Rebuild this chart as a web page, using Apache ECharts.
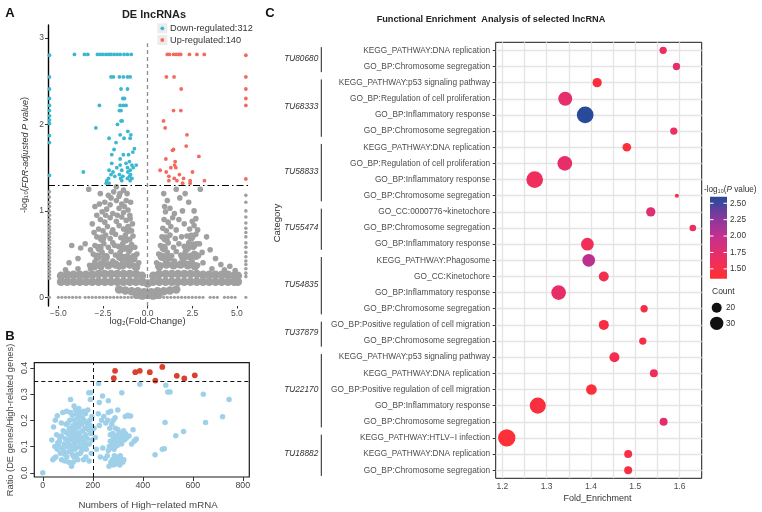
<!DOCTYPE html>
<html>
<head>
<meta charset="utf-8">
<script src="https://cdn.jsdelivr.net/npm/echarts@6.0.0/dist/echarts.min.js"></script>
<style>
  html, body { margin: 0; padding: 0; background: #fff; }
  #chart { width: 762px; height: 512px; }
</style>
</head>
<body>
<div id="chart"></div>
<script>
// ---------- Panel A: volcano plot of DE lncRNAs ----------
const volcanoXTicks = [-5, -2.5, 0, 2.5, 5]
const volcanoYTicks = [0, 1, 2, 3]
const fdrCutoff = 1.3
const downTotal = 312
const upTotal = 140

// down-regulated (cyan)
const downPoints = [
  [-5.5, 2.80], [-5.5, 2.55], [-5.5, 2.41], [-5.5, 2.30], [-5.5, 2.22], [-5.5, 2.16], [-5.5, 2.10],
  [-5.5, 2.05], [-5.5, 2.01], [-5.5, 1.87], [-5.5, 1.79], [-5.5, 1.41],
  [-4.10, 2.81], [-3.54, 2.81], [-3.35, 2.81], [-2.81, 2.81], [-2.66, 2.81], [-2.51, 2.81], [-2.34, 2.81],
  [-2.19, 2.81], [-2.05, 2.81], [-1.88, 2.81], [-1.71, 2.81], [-1.54, 2.81], [-1.32, 2.81], [-1.13, 2.81], [-0.92, 2.81],
  [-2.05, 2.55], [-1.92, 2.55], [-1.58, 2.55], [-1.36, 2.55], [-1.13, 2.55], [-0.98, 2.55],
  [-1.49, 2.41], [-1.13, 2.41], [-1.39, 2.30], [-1.30, 2.30],
  [-2.70, 2.22], [-1.54, 2.22], [-1.36, 2.22], [-1.21, 2.22], [-1.58, 2.16], [-1.49, 2.16],
  [-1.49, 2.04], [-1.43, 2.04], [-1.69, 2.00], [-2.90, 1.96], [-1.11, 1.92], [-1.54, 1.88], [-0.94, 1.88],
  [-2.16, 1.84], [-1.32, 1.84], [-0.98, 1.84], [-1.77, 1.79], [-0.74, 1.72], [-1.88, 1.71], [-0.83, 1.68],
  [-2.01, 1.65], [-1.36, 1.65], [-1.07, 1.65], [-1.54, 1.60], [-1.02, 1.57], [-2.01, 1.55], [-1.21, 1.55],
  [-1.54, 1.53], [-0.88, 1.53], [-0.64, 1.53], [-1.73, 1.50], [-1.13, 1.50], [-0.81, 1.50],
  [-2.16, 1.47], [-1.45, 1.47], [-0.98, 1.47], [-3.60, 1.45], [-1.94, 1.45], [-1.11, 1.45],
  [-2.05, 1.42], [-1.58, 1.42], [-0.96, 1.42], [-1.84, 1.40], [-1.39, 1.40], [-1.02, 1.40],
  [-2.19, 1.376], [-1.51, 1.376], [-1.13, 1.376], [-0.88, 1.376], [-2.29, 1.35], [-1.45, 1.35], [-0.98, 1.35],
  [-2.32, 1.32], [-2.16, 1.32]
]

// up-regulated (red)
const upPoints = [
  [5.5, 2.80], [5.5, 2.55], [5.5, 2.41], [5.5, 2.30], [5.5, 2.22], [5.5, 1.37],
  [1.10, 2.81], [1.22, 2.81], [1.45, 2.81], [1.60, 2.81], [1.75, 2.81], [1.85, 2.81], [2.34, 2.81], [2.76, 2.81], [3.17, 2.81],
  [1.05, 2.55], [1.48, 2.55], [1.88, 2.41], [1.45, 2.16], [1.86, 2.16], [0.89, 2.04], [0.98, 1.96],
  [2.20, 1.88], [2.16, 1.75], [1.39, 1.70], [1.45, 1.71], [2.87, 1.63], [1.02, 1.60], [1.54, 1.57],
  [1.51, 1.53], [1.30, 1.50], [1.58, 1.50], [0.70, 1.47], [1.04, 1.45], [2.51, 1.45], [1.78, 1.42],
  [1.19, 1.40], [1.49, 1.376], [2.01, 1.376], [1.19, 1.35], [1.64, 1.35], [2.38, 1.35], [3.18, 1.35],
  [1.96, 1.32], [2.38, 1.32]
]

// not significant (grey)
const greyZero = [
  [-5.5, 0], [-5.0, 0], [-4.8, 0], [-4.6, 0], [-4.4, 0], [-4.2, 0], [-4.0, 0], [-3.8, 0], [-3.5, 0], [-3.3, 0],
  [-3.1, 0], [-2.9, 0], [-2.7, 0], [-2.5, 0], [-2.3, 0], [-2.1, 0], [-1.9, 0], [-1.7, 0], [-1.5, 0], [-1.3, 0],
  [-1.1, 0], [-0.9, 0], [-0.7, 0], [-0.5, 0], [-0.3, 0], [-0.1, 0], [0.1, 0], [0.3, 0], [0.5, 0], [0.7, 0],
  [0.9, 0], [1.1, 0], [1.3, 0], [1.5, 0], [1.7, 0], [1.9, 0], [2.1, 0], [2.3, 0], [2.5, 0], [2.7, 0],
  [2.9, 0], [3.1, 0], [3.5, 0], [3.7, 0], [3.9, 0], [4.3, 0], [4.5, 0], [4.7, 0], [4.9, 0], [5.5, 0]
]
const greyBand = [
  [-4.85, 0.18], [-4.5, 0.18], [-4.15, 0.18], [-3.8, 0.18], [-3.45, 0.18], [-3.1, 0.18], [-2.75, 0.18], [-2.4, 0.18],
  [-2.05, 0.18], [-1.7, 0.18], [-1.35, 0.18], [-1.0, 0.18], [-0.65, 0.18], [-0.3, 0.18], [0, 0.16], [0.3, 0.18],
  [0.65, 0.18], [1.0, 0.18], [1.35, 0.18], [1.7, 0.18], [2.05, 0.18], [2.4, 0.18], [2.75, 0.18], [3.1, 0.18],
  [3.45, 0.18], [3.8, 0.18], [4.15, 0.18], [4.5, 0.18], [4.85, 0.18], [5.05, 0.18],
  [-4.85, 0.25], [-4.5, 0.26], [-4.15, 0.26], [-3.8, 0.26], [-3.45, 0.26], [-3.1, 0.26], [-2.75, 0.27], [-2.4, 0.27],
  [-2.05, 0.27], [-1.7, 0.27], [-1.35, 0.27], [-1.0, 0.27], [-0.65, 0.27], [-0.32, 0.25], [0.32, 0.25],
  [0.65, 0.27], [1.0, 0.27], [1.35, 0.27], [1.7, 0.27], [2.05, 0.27], [2.4, 0.27], [2.75, 0.27], [3.1, 0.26],
  [3.45, 0.26], [3.8, 0.26], [4.15, 0.26], [4.5, 0.26], [4.85, 0.25], [5.05, 0.25],
  [-1.6, 0.09], [-1.25, 0.08], [-0.9, 0.07], [-0.55, 0.07], [-0.2, 0.06], [0.2, 0.06], [0.55, 0.07],
  [0.9, 0.07], [1.25, 0.08], [1.6, 0.09], [-0.6, 0.03], [-0.3, 0.02], [0, 0.03], [0.3, 0.02], [0.6, 0.03],
  // dense lower part of the two wings
  [-3.0, 0.36], [-2.6, 0.38], [-2.2, 0.37], [-1.8, 0.38], [-1.4, 0.37], [-1.0, 0.38], [-0.65, 0.35],
  [-2.8, 0.47], [-2.35, 0.46], [-1.55, 0.47], [-1.15, 0.46], [-0.8, 0.45],
  [-2.7, 0.57], [-1.4, 0.57], [-1.05, 0.56], [-2.55, 0.68], [-1.25, 0.67], [-1.1, 0.78],
  [0.65, 0.36], [1.05, 0.38], [1.45, 0.37], [1.85, 0.38], [2.25, 0.37], [2.65, 0.36],
  [0.8, 0.47], [1.2, 0.46], [2.0, 0.46], [2.4, 0.47], [2.7, 0.48],
  [0.9, 0.57], [2.2, 0.57], [2.55, 0.6], [1.0, 0.68], [2.45, 0.7]
]
const greyColumns = [
  [-5.5, 0.22], [-5.5, 0.26], [-5.5, 0.30], [-5.5, 0.34], [-5.5, 0.38], [-5.5, 0.42], [-5.5, 0.46], [-5.5, 0.50],
  [-5.5, 0.54], [-5.5, 0.58], [-5.5, 0.62], [-5.5, 0.66], [-5.5, 0.70], [-5.5, 0.74], [-5.5, 0.78], [-5.5, 0.82],
  [-5.5, 0.86], [-5.5, 0.90], [-5.5, 0.95], [-5.5, 1.00], [-5.5, 1.05], [-5.5, 1.10], [-5.5, 1.16], [-5.5, 1.22],
  [5.5, 0.24], [5.5, 0.28], [5.5, 0.33], [5.5, 0.38], [5.5, 0.42], [5.5, 0.47], [5.5, 0.52], [5.5, 0.58],
  [5.5, 0.63], [5.5, 0.70], [5.5, 0.75], [5.5, 0.80], [5.5, 0.86], [5.5, 0.93], [5.5, 1.00], [5.5, 1.10], [5.5, 1.18]
]
const greyScatter = [
  // left wing
  [-3.25, 0.37], [-2.95, 0.41], [-2.7, 0.36], [-2.45, 0.43], [-2.2, 0.38], [-1.95, 0.42], [-1.7, 0.37], [-1.45, 0.44],
  [-1.2, 0.39], [-0.95, 0.42], [-0.7, 0.36], [-0.5, 0.4],
  [-3.05, 0.5], [-2.8, 0.47], [-2.55, 0.52], [-2.3, 0.48], [-2.05, 0.53], [-1.8, 0.49], [-1.55, 0.52], [-1.3, 0.47],
  [-1.05, 0.53], [-0.8, 0.48], [-0.6, 0.5],
  [-2.95, 0.6], [-2.7, 0.57], [-2.45, 0.62], [-2.2, 0.58], [-1.95, 0.63], [-1.65, 0.59], [-1.4, 0.62], [-1.15, 0.57],
  [-0.9, 0.61], [-0.72, 0.58],
  [-2.85, 0.7], [-2.6, 0.67], [-2.35, 0.72], [-2.1, 0.68], [-1.8, 0.73], [-1.5, 0.69], [-1.25, 0.72], [-1.0, 0.67], [-0.82, 0.71],
  [-2.75, 0.79], [-2.5, 0.77], [-2.25, 0.82], [-1.95, 0.78], [-1.6, 0.83], [-1.35, 0.79], [-1.1, 0.82], [-0.9, 0.77],
  [-2.65, 0.9], [-2.4, 0.87], [-2.1, 0.92], [-1.75, 0.88], [-1.45, 0.93], [-1.2, 0.89], [-0.98, 0.91],
  [-2.55, 0.99], [-2.3, 1.02], [-1.95, 0.97], [-1.6, 1.03], [-1.35, 0.98], [-1.1, 1.01],
  [-2.4, 1.1], [-2.1, 1.07], [-1.75, 1.12], [-1.45, 1.08], [-1.2, 1.12],
  [-2.2, 1.18], [-1.9, 1.22], [-1.6, 1.17], [-1.35, 1.24], [-1.75, 1.28], [-1.15, 1.2],
  [-3.3, 1.25], [-2.95, 1.05], [-3.1, 0.85], [-3.5, 0.62], [-3.75, 0.57], [-4.25, 0.6], [-3.9, 0.45], [-4.4, 0.4],
  [-0.95, 1.1], [-2.65, 1.2],
  [-2.85, 0.95], [-2.7, 1.08], [-2.05, 1.15], [-1.55, 1.2], [-1.3, 1.05], [-1.0, 0.95], [-0.85, 0.85],
  [-1.85, 0.6], [-2.0, 0.75], [-1.7, 0.95], [-2.35, 0.95], [-3.0, 0.75], [-3.2, 0.55],
  // right wing
  [0.5, 0.4], [0.75, 0.37], [1.0, 0.43], [1.25, 0.38], [1.5, 0.42], [1.75, 0.37], [2.0, 0.43], [2.25, 0.39],
  [2.5, 0.41], [2.8, 0.37], [3.1, 0.4],
  [0.62, 0.5], [0.85, 0.47], [1.1, 0.52], [1.35, 0.48], [1.6, 0.53], [1.85, 0.49], [2.1, 0.52], [2.35, 0.47],
  [2.6, 0.51], [2.85, 0.48],
  [0.72, 0.6], [0.92, 0.57], [1.15, 0.63], [1.45, 0.58], [1.75, 0.62], [2.05, 0.59], [2.3, 0.63], [2.55, 0.58], [2.75, 0.62],
  [0.8, 0.7], [1.0, 0.67], [1.25, 0.72], [1.55, 0.68], [2.2, 0.71], [2.45, 0.68], [2.7, 0.73],
  [0.85, 0.8], [1.05, 0.77], [1.3, 0.82], [1.6, 0.78], [2.35, 0.79], [2.6, 0.83], [2.8, 0.78],
  [0.92, 0.9], [1.15, 0.87], [1.4, 0.92], [2.5, 0.88], [2.7, 0.91],
  [1.0, 0.99], [1.25, 1.03], [1.5, 0.97], [2.6, 1.0],
  [1.8, 1.15], [2.1, 1.2], [2.3, 1.1], [1.95, 1.0], [2.95, 1.25], [3.5, 0.55], [3.3, 0.7], [4.1, 0.38],
  [4.6, 0.36], [3.8, 0.45], [1.1, 1.12], [0.9, 1.2], [1.6, 1.25],
  [1.9, 0.7], [2.05, 0.85], [1.75, 0.9], [0.95, 1.05], [2.9, 0.62], [3.05, 0.52],
  // ragged top of the band
  [-4.6, 0.32], [-3.9, 0.33], [-3.2, 0.33], [-2.6, 0.34], [-1.6, 0.35], [3.6, 0.33], [4.3, 0.32], [4.9, 0.31]
]

// ---------- Panel B: ratio vs number of high-related mRNA ----------
const ratioXTicks = [0, 200, 400, 600, 800]
const ratioYTicks = [0, 0.1, 0.2, 0.3, 0.4]
const ratioCutX = 200
const ratioCutY = 0.35
const ratioHigh = [
  [289, 0.389], [284, 0.361], [370, 0.384], [388, 0.389], [428, 0.384], [478, 0.404],
  [450, 0.352], [536, 0.370], [566, 0.360], [608, 0.372]
]
const ratioLow = [
  [0, 0.0],
  [45, 0.055], [52, 0.06], [58, 0.09], [62, 0.105], [66, 0.12], [70, 0.075], [74, 0.14], [78, 0.095], [82, 0.16],
  [85, 0.11], [88, 0.07], [90, 0.13], [93, 0.185], [95, 0.235], [98, 0.1], [100, 0.15], [102, 0.12], [104, 0.08],
  [106, 0.17], [108, 0.2], [110, 0.135], [111, 0.28], [112, 0.105], [114, 0.16], [116, 0.09], [118, 0.22],
  [120, 0.125], [121, 0.18], [123, 0.145], [124, 0.06], [126, 0.2], [127, 0.11], [129, 0.165], [130, 0.24],
  [131, 0.13], [133, 0.095], [134, 0.185], [135, 0.225], [137, 0.15], [138, 0.07], [140, 0.21], [141, 0.12],
  [143, 0.175], [144, 0.245], [145, 0.14], [147, 0.1], [148, 0.195], [150, 0.155], [151, 0.23], [153, 0.125],
  [155, 0.185], [156, 0.085], [158, 0.21], [160, 0.16], [161, 0.135], [163, 0.05], [165, 0.2], [167, 0.115],
  [168, 0.17], [170, 0.225], [172, 0.145], [174, 0.09], [176, 0.19], [178, 0.13], [180, 0.24], [182, 0.165],
  [184, 0.305], [186, 0.11], [188, 0.2], [190, 0.28], [192, 0.15], [194, 0.075], [196, 0.215], [198, 0.125],
  [75, 0.05], [68, 0.135], [60, 0.115], [55, 0.145], [48, 0.1], [50, 0.2], [43, 0.175], [36, 0.125], [40, 0.05],
  [58, 0.218], [80, 0.23], [88, 0.045], [96, 0.06], [104, 0.04], [115, 0.025], [122, 0.04], [130, 0.065],
  [140, 0.05], [150, 0.075], [160, 0.095], [172, 0.06], [185, 0.045], [100, 0.19], [110, 0.23], [125, 0.255],
  [118, 0.07], [128, 0.09], [136, 0.12], [146, 0.215], [152, 0.105], [164, 0.235], [170, 0.1], [180, 0.185],
  [190, 0.18], [197, 0.165], [83, 0.085], [92, 0.155], [108, 0.145], [74, 0.19],
  [262, 0.085], [266, 0.1], [270, 0.12], [274, 0.095], [278, 0.11], [282, 0.13], [285, 0.09], [288, 0.115],
  [291, 0.1], [294, 0.14], [296, 0.125], [299, 0.105], [302, 0.135], [304, 0.15], [306, 0.12], [309, 0.145],
  [312, 0.13], [315, 0.11], [318, 0.155], [320, 0.14], [323, 0.16], [326, 0.125], [330, 0.15], [334, 0.132],
  [300, 0.165], [280, 0.15], [270, 0.145], [290, 0.17],
  [265, 0.025], [272, 0.04], [278, 0.05], [283, 0.03], [288, 0.045], [292, 0.055], [296, 0.035], [300, 0.05],
  [304, 0.04], [308, 0.03], [312, 0.055], [316, 0.045], [320, 0.04], [324, 0.05], [296, 0.06], [286, 0.065], [310, 0.065],
  [230, 0.06], [240, 0.095], [250, 0.055], [258, 0.065], [226, 0.18], [235, 0.2], [244, 0.215], [252, 0.19],
  [260, 0.2], [268, 0.17], [276, 0.185], [282, 0.2], [262, 0.23], [272, 0.235], [289, 0.21], [300, 0.24],
  [222, 0.225], [210, 0.135], [215, 0.09], [205, 0.17], [330, 0.215], [340, 0.22], [345, 0.217], [351, 0.217],
  [223, 0.341], [192, 0.305], [226, 0.268], [239, 0.293], [262, 0.275], [316, 0.305], [388, 0.338], [492, 0.334],
  [500, 0.308], [509, 0.308], [489, 0.192], [449, 0.069], [478, 0.09], [486, 0.092], [532, 0.141], [563, 0.158],
  [642, 0.300], [651, 0.192], [719, 0.214], [745, 0.28], [361, 0.164], [374, 0.129], [345, 0.14], [355, 0.11],
  [365, 0.12], [370, 0.125]
]

// ---------- Panel C: functional enrichment ----------
const terms = [
  'KEGG_PATHWAY:DNA replication', 'GO_BP:Chromosome segregation',
  'KEGG_PATHWAY:p53 signaling pathway', 'GO_BP:Regulation of cell proliferation', 'GO_BP:Inflammatory response', 'GO_BP:Chromosome segregation',
  'KEGG_PATHWAY:DNA replication', 'GO_BP:Regulation of cell proliferation', 'GO_BP:Inflammatory response', 'GO_BP:Chromosome segregation',
  'GO_CC:0000776~kinetochore', 'GO_BP:Chromosome segregation', 'GO_BP:Inflammatory response',
  'KEGG_PATHWAY:Phagosome', 'GO_CC:Kinetochore', 'GO_BP:Inflammatory response', 'GO_BP:Chromosome segregation',
  'GO_BP:Positive regulation of cell migration', 'GO_BP:Chromosome segregation',
  'KEGG_PATHWAY:p53 signaling pathway', 'KEGG_PATHWAY:DNA replication', 'GO_BP:Positive regulation of cell migration', 'GO_BP:Inflammatory response', 'GO_BP:Chromosome segregation',
  'KEGG_PATHWAY:HTLV\u2212I infection', 'KEGG_PATHWAY:DNA replication', 'GO_BP:Chromosome segregation'
]
const foldEnrichment = [1.563, 1.593, 1.414, 1.342, 1.387, 1.587, 1.481, 1.341, 1.273, 1.594, 1.535, 1.630, 1.392,
  1.395, 1.429, 1.327, 1.520, 1.429, 1.517, 1.453, 1.542, 1.401, 1.280, 1.564, 1.210, 1.484, 1.484]
const geneCount = [12, 12, 18, 32, 40, 12, 16, 34, 40, 2, 18, 10, 28, 28, 20, 34, 12, 20, 12, 20, 14, 22, 38, 14, 42, 14, 14]
const logP = [1.65, 1.70, 1.45, 1.72, 2.58, 1.65, 1.42, 1.70, 1.62, 1.45, 1.78, 1.65, 1.60, 2.02, 1.55, 1.70, 1.50,
  1.48, 1.50, 1.55, 1.62, 1.42, 1.45, 1.75, 1.40, 1.47, 1.47]
const groupNames = ['TU80680', 'TU68333', 'TU58833', 'TU55474', 'TU54835', 'TU37879', 'TU22170', 'TU18882']
const groupFirst = [0, 2, 6, 10, 13, 17, 19, 24]
const groupLast = [1, 5, 9, 12, 16, 18, 23, 26]
const foldTicks = [1.2, 1.3, 1.4, 1.5, 1.6]
const foldGrid = [1.2, 1.25, 1.3, 1.35, 1.4, 1.45, 1.5, 1.55, 1.6]
const pTicks = [1.5, 1.75, 2, 2.25, 2.5]
const countBreaks = [20, 30]
const pColors = ['#FF3030', '#EC2E63', '#C6308C', '#84399C', '#234A9A']

const FONT = "'Liberation Sans', Arial, 'DejaVu Sans', sans-serif"
const GREY = '#a0a0a0'
const foldMin = 1.185
const foldMax = 1.65
const pMin = 1.35
const pMax = 2.6
const bubbleSize = c => 3.3 + 0.335 * c
const minus = s => s.replace('-', '\u2212')

const chart = echarts.init(document.getElementById('chart'))

const txt = (x, y, text, o) => ({
  type: 'text', x, y, rotation: (o && o.rot) || 0, silent: true,
  style: Object.assign({ text, fontFamily: FONT, fontSize: 9, fill: '#333', align: 'center', verticalAlign: 'middle' }, o && o.style)
})

// flat filled dots, no border and no shadow
const flat = color => ({ color, opacity: 1, borderWidth: 0, shadowBlur: 0, shadowColor: 'rgba(0,0,0,0)' })

const dots = (data, size, color, extra) => Object.assign({
  type: 'scatter', xAxisIndex: 0, yAxisIndex: 0, data, symbol: 'circle', symbolSize: size, silent: true,
  itemStyle: flat(color)
}, extra)

const option = {
  animation: false,
  grid: [
    { left: 48, top: 25, width: 200, height: 281 },
    { left: 34.3, top: 362.7, width: 215, height: 114.3, show: true, borderColor: '#1a1a1a', borderWidth: 1.2 },
    { left: 495.7, top: 42.3, width: 206, height: 436, show: true, borderColor: '#1a1a1a', borderWidth: 1 },
    { left: 710, top: 196.7, width: 17, height: 82 }
  ],
  xAxis: [
    {
      gridIndex: 0, type: 'value', min: -5.58, max: 5.62,
      axisLine: { show: false, onZero: false },
      axisTick: { length: 2.5, customValues: volcanoXTicks, lineStyle: { color: '#333' } },
      axisLabel: { customValues: volcanoXTicks, formatter: v => minus(v.toFixed(1)), fontSize: 8.5, color: '#4d4d4d', margin: 3, fontFamily: FONT },
      splitLine: { show: false }
    },
    {
      gridIndex: 1, type: 'value', min: -34, max: 826,
      axisLine: { show: false, onZero: false },
      axisTick: { length: 4, customValues: ratioXTicks, lineStyle: { color: '#333' } },
      axisLabel: { customValues: ratioXTicks, fontSize: 8.8, color: '#444', margin: 4, fontFamily: FONT },
      splitLine: { show: false }
    },
    {
      gridIndex: 2, type: 'value', min: foldMin, max: foldMax,
      axisLine: { show: false, onZero: false },
      axisTick: { length: 3, customValues: foldTicks, lineStyle: { color: '#333' } },
      axisLabel: { customValues: foldTicks, formatter: v => v.toFixed(1), fontSize: 8.5, color: '#4d4d4d', margin: 4, fontFamily: FONT },
      splitLine: { show: false }
    },
    {
      gridIndex: 2, type: 'value', min: foldMin, max: foldMax,
      axisLine: { show: false, onZero: false },
      axisTick: { show: false, customValues: foldGrid },
      axisLabel: { show: false },
      splitLine: { show: true, lineStyle: { color: '#e4e4e4', width: 1.3 } }
    },
    { gridIndex: 3, type: 'value', min: 0, max: 1, show: false }
  ],
  yAxis: [
    {
      gridIndex: 0, type: 'value', min: -0.1, max: 3.15,
      axisLine: { show: true, onZero: false, lineStyle: { color: '#000', width: 1.4 } },
      axisTick: { show: true, length: 3, customValues: volcanoYTicks, lineStyle: { color: '#333' } },
      axisLabel: { customValues: volcanoYTicks, fontSize: 8.5, color: '#4d4d4d', margin: 4, fontFamily: FONT },
      splitLine: { show: false }
    },
    {
      gridIndex: 1, type: 'value', min: -0.016, max: 0.42,
      axisLine: { show: false, onZero: false },
      axisTick: { show: true, length: 4, customValues: ratioYTicks, lineStyle: { color: '#333' } },
      axisLabel: { customValues: ratioYTicks, formatter: v => v.toFixed(1), rotate: 90, fontSize: 8.8, color: '#444', margin: 5, fontFamily: FONT },
      splitLine: { show: false }
    },
    {
      gridIndex: 2, type: 'category', data: terms, inverse: true, boundaryGap: true,
      axisLine: { show: false, onZero: false },
      axisTick: { show: true, alignWithLabel: true, interval: 0, length: 3, lineStyle: { color: '#333' } },
      axisLabel: { interval: 0, fontSize: 8.3, color: '#4d4d4d', margin: 5.5, fontFamily: FONT },
      splitLine: { show: true, alignWithLabel: true, interval: 0, lineStyle: { color: '#e4e4e4', width: 1.3 } }
    },
    {
      gridIndex: 3, type: 'value', min: pMin, max: pMax, position: 'right',
      axisLine: { show: false, onZero: false },
      axisTick: { show: false },
      axisLabel: { customValues: pTicks, formatter: v => v.toFixed(2), fontSize: 8.2, color: '#333', margin: 3, fontFamily: FONT },
      splitLine: { show: false }
    }
  ],
  visualMap: [{
    type: 'continuous', show: false, min: pMin, max: pMax, dimension: 3, seriesIndex: 9,
    inRange: { color: pColors }
  }],
  series: [
    dots(greyZero, 3.2, GREY),
    dots(greyBand, 8.5, GREY),
    dots(greyColumns, 3.6, GREY),
    dots(greyScatter, 5.6, GREY),
    dots(downPoints, 3.8, '#3BB8D0', {
      markLine: {
        silent: true, symbol: 'none', label: { show: false },
        data: [
          [{ coord: [0, -0.1], lineStyle: { color: '#8c8c8c', type: [4, 3], width: 1.3 } }, { coord: [0, 2.94] }],
          { yAxis: fdrCutoff, lineStyle: { color: '#000', type: [7, 3, 1.5, 3], width: 1.2 } }
        ]
      }
    }),
    dots(upPoints, 3.8, '#F26B5E'),
    {
      type: 'scatter', xAxisIndex: 1, yAxisIndex: 1, data: ratioLow, symbol: 'circle', symbolSize: 5.5,
      itemStyle: flat('#9FD0EA'), silent: true,
      markLine: {
        silent: true, symbol: 'none', label: { show: false },
        lineStyle: { color: '#111', type: [4, 3], width: 1 },
        data: [{ xAxis: ratioCutX }, { yAxis: ratioCutY }]
      }
    },
    {
      type: 'scatter', xAxisIndex: 1, yAxisIndex: 1, data: ratioHigh, symbol: 'circle', symbolSize: 5.8,
      itemStyle: flat('#D9412D'), silent: true
    },
    {
      type: 'custom', xAxisIndex: 2, yAxisIndex: 2, clip: false, silent: true,
      data: groupNames.map((n, i) => [foldMin, groupFirst[i], groupLast[i], i]),
      encode: { x: 0, y: 1 },
      renderItem: (params, api) => {
        const first = api.coord([foldMin, api.value(1)])
        const last = api.coord([foldMin, api.value(2)])
        const band = api.size([0, 1])[1]
        const bx = first[0] - 174.4
        const name = groupNames[api.value(3)]
        return {
          type: 'group',
          children: [
            { type: 'line', shape: { x1: bx, y1: first[1] - 0.2 * band, x2: bx, y2: last[1] + 0.35 * band }, style: { stroke: '#222', lineWidth: 1 } },
            {
              type: 'text', x: bx - 3, y: (first[1] + last[1]) / 2,
              style: { text: name, align: 'right', verticalAlign: 'middle', fontStyle: 'italic', fontSize: 8.3, fontFamily: FONT, fill: '#333' }
            }
          ]
        }
      }
    },
    {
      type: 'scatter', xAxisIndex: 2, yAxisIndex: 2, silent: true, z: 5, symbol: 'circle',
      itemStyle: { opacity: 1, borderWidth: 0, shadowBlur: 0, shadowColor: 'rgba(0,0,0,0)' },
      data: terms.map((t, i) => [foldEnrichment[i], i, geneCount[i], logP[i]]),
      symbolSize: v => bubbleSize(v[2])
    },
    {
      type: 'custom', xAxisIndex: 4, yAxisIndex: 3, silent: true, clip: false,
      data: [[0.5, pMin]],
      renderItem: (params, api) => {
        const tl = api.coord([0, pMax])
        const br = api.coord([1, pMin])
        const children = [{
          type: 'rect', shape: { x: tl[0], y: tl[1], width: br[0] - tl[0], height: br[1] - tl[1] },
          style: {
            fill: new echarts.graphic.LinearGradient(0, 1, 0, 0,
              pColors.map((c, i) => ({ offset: i / (pColors.length - 1), color: c })))
          }
        }]
        pTicks.forEach(v => {
          const y = api.coord([0, v])[1]
          children.push({ type: 'line', shape: { x1: tl[0], y1: y, x2: tl[0] + 3.5, y2: y }, style: { stroke: '#fff', lineWidth: 1 } })
          children.push({ type: 'line', shape: { x1: br[0] - 3.5, y1: y, x2: br[0], y2: y }, style: { stroke: '#fff', lineWidth: 1 } })
        })
        return { type: 'group', children }
      }
    }
  ],
  graphic: [
    txt(10, 13, 'A', { style: { fontSize: 13, fontWeight: 'bold', fill: '#111' } }),
    txt(10, 336, 'B', { style: { fontSize: 13, fontWeight: 'bold', fill: '#111' } }),
    txt(270, 13, 'C', { style: { fontSize: 13, fontWeight: 'bold', fill: '#111' } }),
    txt(154, 15, 'DE lncRNAs', { style: { fontSize: 11, fontWeight: 'bold', fill: '#222' } }),
    txt(491, 19, 'Functional Enrichment  Analysis of selected lncRNA', { style: { fontSize: 9.2, fontWeight: 'bold', fill: '#222' } }),
    txt(25, 155, '{n|-log\u2081\u2080(}{i|FDR-adjusted P value}{n|)}', {
      rot: Math.PI / 2,
      style: { rich: { n: { fontSize: 9, fontFamily: FONT, fill: '#333' }, i: { fontSize: 9, fontStyle: 'italic', fontFamily: FONT, fill: '#333' } } }
    }),
    txt(147.5, 321, 'log\u2082(Fold-Change)', { style: { fontSize: 9.3 } }),
    txt(10, 420, 'Ratio (DE genes/High-related genes)', { rot: Math.PI / 2, style: { fontSize: 9.3, fill: '#444' } }),
    txt(148, 505.5, 'Numbers of High\u2212related mRNA', { style: { fontSize: 9.7, fill: '#444' } }),
    txt(277, 223, 'Category', { rot: Math.PI / 2, style: { fontSize: 9.5 } }),
    txt(597.5, 499, 'Fold_Enrichment', { style: { fontSize: 9 } }),
    txt(704, 190, '{n|-log\u2081\u2080(}{i|P}{n| value)}', {
      style: { align: 'left', rich: { n: { fontSize: 8.2, fontFamily: FONT, fill: '#333' }, i: { fontSize: 8.2, fontStyle: 'italic', fontFamily: FONT, fill: '#333' } } }
    }),
    txt(712, 292, 'Count', { style: { align: 'left', fontSize: 8.5 } }),
    { type: 'circle', silent: true, shape: { cx: 716.7, cy: 307.7, r: bubbleSize(countBreaks[0]) / 2 }, style: { fill: '#111' } },
    { type: 'circle', silent: true, shape: { cx: 716.7, cy: 323.3, r: bubbleSize(countBreaks[1]) / 2 }, style: { fill: '#111' } },
    txt(726, 307.7, String(countBreaks[0]), { style: { align: 'left', fontSize: 8.2 } }),
    txt(726, 323.3, String(countBreaks[1]), { style: { align: 'left', fontSize: 8.2 } }),
    { type: 'rect', silent: true, shape: { x: 157.3, y: 23.3, width: 10, height: 10 }, style: { fill: '#ececec' } },
    { type: 'rect', silent: true, shape: { x: 157.3, y: 35, width: 10, height: 10 }, style: { fill: '#ececec' } },
    { type: 'circle', silent: true, shape: { cx: 162.3, cy: 28.3, r: 1.9 }, style: { fill: '#3BB8D0' } },
    { type: 'circle', silent: true, shape: { cx: 162.3, cy: 40, r: 1.9 }, style: { fill: '#F26B5E' } },
    txt(170, 28.3, 'Down-regulated:' + downTotal, { style: { align: 'left', fontSize: 9.2 } }),
    txt(170, 40, 'Up-regulated:' + upTotal, { style: { align: 'left', fontSize: 9.2 } })
  ]
}

chart.setOption(option)
</script>
</body>
</html>
